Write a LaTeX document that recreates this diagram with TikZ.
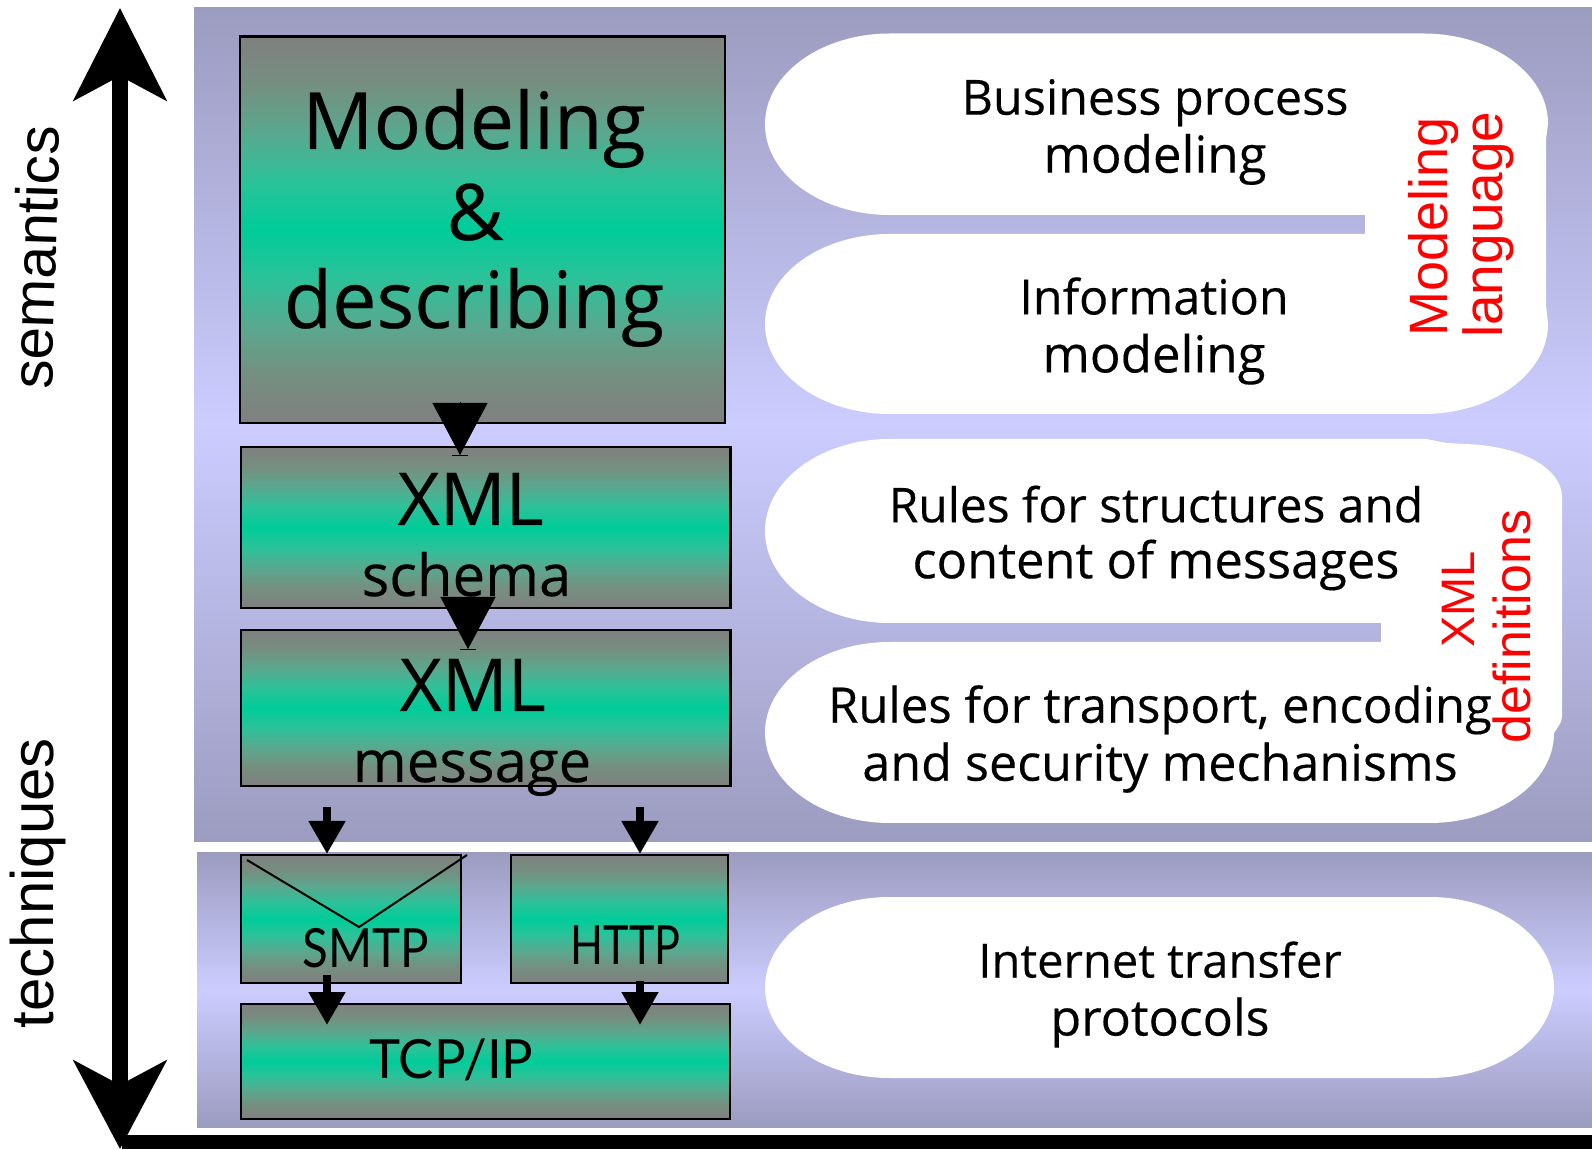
\documentclass[tikz,border=0pt]{standalone}
\usepackage{fontspec}
\setmainfont[FakeBold=.3]{Open Sans}
\newfontfamily\axisfont{Liberation Sans}
\newfontfamily\protofont[FakeStretch=.88]{Lato}
\newfontfamily\httpfont[FakeStretch=.8]{Lato}
\newfontfamily\tcpfont[FakeStretch=.975]{Lato}
\usetikzlibrary{arrows.meta}
\definecolor{panelblue}{HTML}{9C9CC0}
\definecolor{panellight}{HTML}{CCCCFF}
\definecolor{boxgray}{HTML}{808080}
\definecolor{boxgreen}{HTML}{00CC99}
\newcommand{\fsz}[1]{\fontsize{#1}{#1}\selectfont}
\newcommand{\lsz}[1]{\fontsize{#1}{58}\selectfont}
\pgfdeclareverticalshading{boxshade}{100bp}{
  color(0bp)=(boxgray); color(25bp)=(boxgray);
  rgb(31.25bp)=(.46,.56,.50); rgb(37.5bp)=(.35,.66,.56); rgb(43.75bp)=(.17,.76,.60);
  color(50bp)=(boxgreen);
  rgb(56.25bp)=(.17,.76,.60); rgb(62.5bp)=(.35,.66,.56); rgb(68.75bp)=(.46,.56,.50);
  color(75bp)=(boxgray); color(100bp)=(boxgray)}
\tikzset{
  panel/.style={top color=panelblue,bottom color=panelblue,middle color=panellight},
  stackbox/.style={draw=black,line width=2.5pt,shading=boxshade,inner sep=0pt,outer sep=0pt},
  stacktext/.style={anchor=base,inner sep=0pt},
  blobtext/.style={align=center,inner sep=0pt,font=\lsz{48.5}},
  redtext/.style={rotate=90,anchor=base west,inner sep=0pt,text=red},
  axistext/.style={anchor=base west,inner sep=0pt},
  bigarrow/.style={line width=.5pt,-{Triangle[length=52pt,width=55pt]}},
  smallarrow/.style={line width=8pt,-{Triangle[length=33pt,width=35pt]}},
}
\begin{document}
\begin{tikzpicture}[x=1pt,y=1pt]
    \useasboundingbox (0,0) rectangle (1592,1149);
    % background panels
    \shade[panel] (194,307) rectangle (1592,1141.5);
    \shade[panel] (197,22) rectangle (1592,297);
    % white blobs
    \fill[white] (890,1115.5)--(1423,1115.5) arc[start angle=90,end angle=0,x radius=125,y radius=90]
        --(1546,1009) --(1546,844) --(1548,825) arc[start angle=0,end angle=-90,x radius=125,y radius=90]
        --(890,735) arc[start angle=270,end angle=90,x radius=125,y radius=90]
        --(1365,915) --(1365,934) --(890,934) arc[start angle=270,end angle=90,x radius=125,y radius=90.75]--cycle;
    \fill[white] (890,710)--(1427,710) .. controls (1445,706) .. (1465,705)
        .. controls (1525,703) and (1562,679) .. (1562,652) --(1562,436) .. controls (1562,428) .. (1554,416)
        arc[start angle=0,end angle=-90,x radius=125,y radius=90]
        --(890,326) arc[start angle=270,end angle=90,x radius=125,y radius=90.5]
        --(1381,507) --(1381,526) --(890,526) arc[start angle=270,end angle=90,x radius=125,y radius=92]--cycle;
    \fill[white] (890,252)--(1429,252) arc[start angle=90,end angle=-90,x radius=125,y radius=90.5]
        --(890,71) arc[start angle=270,end angle=90,x radius=125,y radius=90.5]--cycle;
    % left stack
    \node[stackbox,minimum width=485pt,minimum height=386.5pt] (modelbox) at (482.5,919.25) {};
    \node[stackbox,minimum width=489.5pt,minimum height=161pt] (schemabox) at (485.75,621.5) {};
    \node[stackbox,minimum width=489.5pt,minimum height=156pt] (messagebox) at (485.75,441) {};
    \node[stackbox,minimum width=220pt,minimum height=128pt] (smtpbox) at (351,230) {};
    \node[stackbox,minimum width=217pt,minimum height=128pt] (httpbox) at (619.5,230) {};
    \node[stackbox,minimum width=489pt,minimum height=115pt] (tcpbox) at (485.5,87.5) {};
    \draw[line width=2pt] (247,289)--(359,222)--(467,294);
    \node[stacktext,font=\fsz{79}] (modeltext) at (474,1000) {Modeling};
    \node[stacktext,font=\fsz{78}] (andtext) at (475,909) {\&};
    \node[stacktext,font=\fsz{79}] (desctext) at (474,821) {describing};
    \node[stacktext,font=\fsz{73}] (schemaxml) at (470.6,624) {XML};
    \node[stacktext,font=\fsz{58}] (schematext) at (466.5,553) {schema};
    \node[stacktext,font=\fsz{73}] (messagexml) at (472.7,438) {XML};
    \node[stacktext,font=\fsz{58}] (messagetext) at (472,367) {message};
    \node[stacktext,font=\protofont\fsz{54}] (smtptext) at (366,182) {SMTP};
    \node[stacktext,font=\httpfont\fsz{54}] (httptext) at (625.6,185) {HTTP};
    \node[stacktext,font=\tcpfont\fsz{54}] (tcptext) at (451.5,71) {TCP/IP};
    % arrows
    \coordinate (schematip) at (460,694);
    \coordinate (messagetip) at (468,500);
    \draw[bigarrow] ([xshift=-22.5pt,yshift=21pt]modelbox.south)--(schematip);
    \draw[bigarrow] ([xshift=-17.75pt,yshift=11pt]schemabox.south)--(messagetip);
    \draw ([xshift=-8pt]schematip)--([xshift=8pt]schematip);
    \draw ([xshift=-8pt]messagetip)--([xshift=8pt]messagetip);
    \coordinate (smtpin) at (327,342);
    \coordinate (httpin) at (640,342);
    \draw[smallarrow] (smtpin)--([xshift=-24pt,yshift=1pt]smtpbox.north);
    \draw[smallarrow] (httpin)--([xshift=20.5pt,yshift=1pt]httpbox.north);
    \draw[smallarrow] ([xshift=-24pt,yshift=8pt]smtpbox.south)--([xshift=-158.5pt,yshift=-21pt]tcpbox.north);
    \draw[smallarrow] ([xshift=20.5pt,yshift=2pt]httpbox.south)--([xshift=154.5pt,yshift=-21pt]tcpbox.north);
    % blob texts
    \node[blobtext] (bptext) at (1155,1017) {Business process\\\lsz{51}modeling};
    \node[blobtext] (imtext) at (1154,818) {Information\\\lsz{51}modeling};
    \node[blobtext] (rstext) at (1156,611) {\lsz{47.9}Rules for structures and\\[-2pt]\lsz{50.6}content of messages};
    \node[blobtext] (rttext) at (1160,410) {\lsz{49}Rules for transport, encoding\\\lsz{50.3}and security mechanisms};
    \node[blobtext] (ittext) at (1160,154.5) {\lsz{47.2}Internet transfer\\\lsz{50.1}protocols};
    % red side labels
    \node[redtext,font=\axisfont\fsz{54}] (redmodeling) at (1447,812) {Modeling};
    \node[redtext,font=\axisfont\fsz{55}] (redlanguage) at (1502,811) {language};
    \node[redtext,font=\axisfont\fsz{47}] (redxml) at (1474,501) {XML};
    \node[redtext,font=\axisfont\fsz{52}] (reddef) at (1530,405) {definitions};
    % axis
    \coordinate (axistop) at (120,1141);
    \coordinate (axisbottom) at (120,0);
    \coordinate (axisend) at (1592,7);
    \draw[line width=16pt,{Stealth[length=92pt,width=92pt,inset=24pt]}-{Stealth[length=88pt,width=92pt,inset=24pt]}] (axistop)--(axisbottom);
    \draw[line width=14pt] (122,7)--(axisend);
    \node[axistext,rotate=88.3,font=\axisfont\fsz{58.5}] (semtext) at (52,759) {semantics};
    \node[axistext,rotate=90,font=\axisfont\fsz{60}] (techtext) at (53,120.5) {techniques};
\end{tikzpicture}
\end{document}
